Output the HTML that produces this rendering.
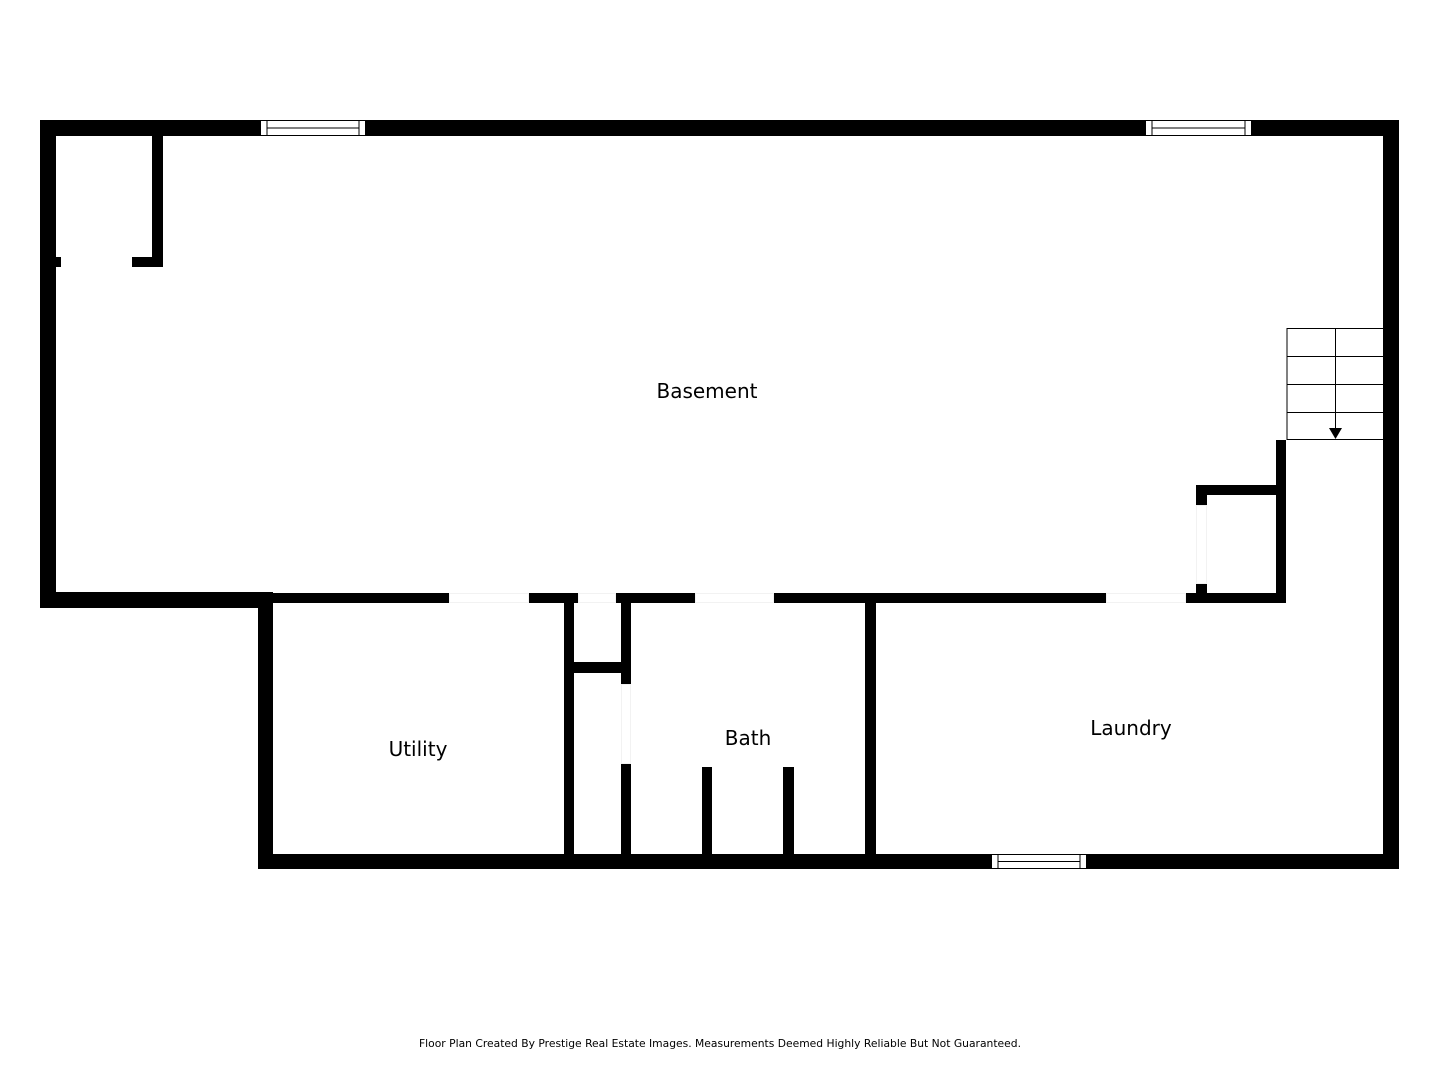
<!DOCTYPE html>
<html><head><meta charset="utf-8"><style>
html,body{margin:0;padding:0;background:#fff;}
svg{display:block;}
text{font-family:"DejaVu Sans","Liberation Sans",sans-serif;fill:#000;}
</style></head><body>
<svg width="1440" height="1080" viewBox="0 0 1440 1080" xmlns="http://www.w3.org/2000/svg">
<rect width="1440" height="1080" fill="#fff"/>
<g fill="#000">
<rect x="40" y="120" width="1359" height="16"/>
<rect x="40" y="120" width="16" height="488"/>
<rect x="1383" y="120" width="16" height="749"/>
<rect x="152" y="136" width="11" height="131"/>
<rect x="132" y="257" width="31" height="10"/>
<rect x="56" y="257" width="5" height="10"/>
<rect x="40" y="592" width="233" height="16"/>
<rect x="273" y="593" width="176" height="10"/>
<rect x="529" y="593" width="49" height="10"/>
<rect x="616" y="593" width="79" height="10"/>
<rect x="774" y="593" width="332" height="10"/>
<rect x="1186" y="593" width="100" height="10"/>
<rect x="258" y="592" width="15" height="277"/>
<rect x="258" y="854" width="1141" height="15"/>
<rect x="564" y="603" width="10" height="251"/>
<rect x="621" y="603" width="10" height="81"/>
<rect x="621" y="764" width="10" height="90"/>
<rect x="574" y="662" width="57" height="11"/>
<rect x="702" y="767" width="10" height="87"/>
<rect x="783" y="767" width="11" height="87"/>
<rect x="865" y="603" width="11" height="251"/>
<rect x="1276" y="440" width="10" height="163"/>
<rect x="1196" y="485" width="90" height="10"/>
<rect x="1196" y="485" width="11" height="20"/>
<rect x="1196" y="584" width="11" height="19"/>
</g>
<g fill="#f2f2f2">
<rect x="449" y="593" width="80" height="10"/>
<rect x="578" y="593" width="38" height="10"/>
<rect x="695" y="593" width="79" height="10"/>
<rect x="1106" y="593" width="80" height="10"/>
<rect x="1196" y="505" width="11" height="79"/>
<rect x="621" y="684" width="10" height="80"/>
</g>
<g fill="#fff">
<rect x="450" y="594" width="78" height="8"/>
<rect x="579" y="594" width="36" height="8"/>
<rect x="696" y="594" width="77" height="8"/>
<rect x="1107" y="594" width="78" height="8"/>
<rect x="1197" y="506" width="9" height="77"/>
<rect x="622" y="685" width="8" height="78"/>
</g>
<g fill="#fff" stroke="#000" stroke-width="1">
<rect x="260.5" y="120.5" width="105" height="15"/>
<line x1="267" y1="121" x2="267" y2="135"/><line x1="359" y1="121" x2="359" y2="135"/>
<line x1="267" y1="128" x2="359" y2="128"/>
<rect x="1145.5" y="120.5" width="106" height="15"/>
<line x1="1152" y1="121" x2="1152" y2="135"/><line x1="1245" y1="121" x2="1245" y2="135"/>
<line x1="1152" y1="128" x2="1245" y2="128"/>
<rect x="991.5" y="854.5" width="95" height="14"/>
<line x1="998" y1="855" x2="998" y2="868"/><line x1="1080" y1="855" x2="1080" y2="868"/>
<line x1="998" y1="861.5" x2="1080" y2="861.5"/>
</g>
<g stroke="#000" stroke-width="1" fill="none">
<line x1="1287" y1="328" x2="1287" y2="440"/>
<line x1="1287" y1="328.5" x2="1383" y2="328.5"/>
<line x1="1287" y1="356.5" x2="1383" y2="356.5"/>
<line x1="1287" y1="384.5" x2="1383" y2="384.5"/>
<line x1="1287" y1="412.5" x2="1383" y2="412.5"/>
<line x1="1287" y1="439.5" x2="1383" y2="439.5"/>
<line x1="1335.5" y1="328" x2="1335.5" y2="432"/>
</g>
<polygon points="1329,428 1342,428 1335.5,439" fill="#000"/>
<text x="707" y="398" font-size="20" text-anchor="middle">Basement</text>
<text x="418" y="756" font-size="20" text-anchor="middle">Utility</text>
<text x="748" y="745" font-size="20" text-anchor="middle">Bath</text>
<text x="1131" y="735" font-size="20" text-anchor="middle">Laundry</text>
<text x="419" y="1047" font-size="11" textLength="602" lengthAdjust="spacingAndGlyphs">Floor Plan Created By Prestige Real Estate Images. Measurements Deemed Highly Reliable But Not Guaranteed.</text>
</svg>
</body></html>
